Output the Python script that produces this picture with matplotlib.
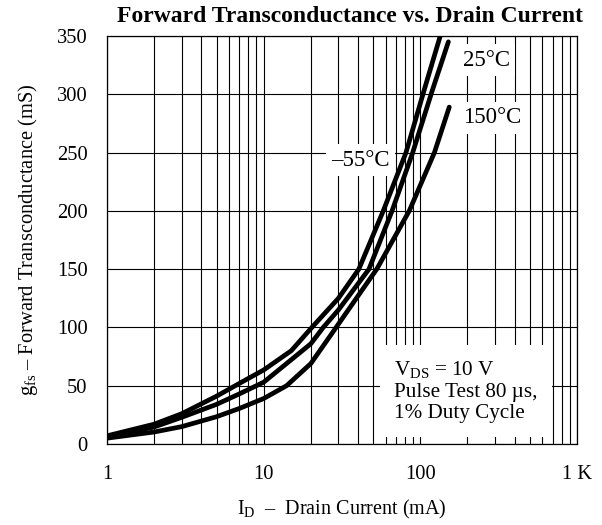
import numpy as np
import matplotlib
matplotlib.use("Agg")
import matplotlib.pyplot as plt
from matplotlib.ticker import FixedLocator, LogLocator, NullFormatter

plt.rcParams['font.family'] = ['Liberation Serif', 'DejaVu Serif']
plt.rcParams['mathtext.fontset'] = 'custom'
plt.rcParams['mathtext.rm'] = 'Liberation Serif'
plt.rcParams['mathtext.it'] = 'Liberation Serif:italic'

# curve data (I_D in mA, g_fs in mS)
id_m55 = [1, 2, 3, 5, 7, 10, 15, 20, 30, 40.5, 58, 81, 106, 134]
gfs_m55 = [7, 17, 26, 41, 52, 63.5, 80, 99, 125, 150, 200, 250, 304, 350]

id_25 = [1, 2, 3, 5, 7, 10, 20, 24, 30, 47, 66, 89.4, 119.7, 151]
gfs_25 = [6, 14.6, 22.9, 34, 43, 53, 86, 100, 115, 150, 200, 250, 304, 345]

id_150 = [1, 2, 3, 5, 7, 10, 14, 20, 29, 40, 52.7, 85, 123, 153]
gfs_150 = [5, 10.3, 14.9, 23.4, 30.5, 39, 50, 69, 100, 127, 150, 200, 250, 289]

xtick_vals = [1, 10, 100, 1000]
xtick_labels = ['1', '10', '100', '1 K']
ytick_vals = [0, 50, 100, 150, 200, 250, 300, 350]

fig = plt.figure(figsize=(6.02, 5.25), dpi=100)
ax = fig.add_axes([107/602, 1-444/525, (577-107)/602, (444-36)/525])

ax.set_xscale('log')
ax.set_xlim(1, 1000)
ax.set_ylim(0, 350)

ax.xaxis.set_major_locator(FixedLocator(xtick_vals))
ax.set_xticklabels(xtick_labels)
ax.xaxis.set_minor_locator(LogLocator(base=10, subs=np.arange(2, 10)))
ax.xaxis.set_minor_formatter(NullFormatter())
ax.set_yticks(ytick_vals)

ax.grid(True, which='both', axis='x', color='black', lw=0.8, zorder=0)
ax.grid(True, which='major', axis='y', color='black', lw=0.8, zorder=0)
ax.set_axisbelow(True)
ax.tick_params(which='both', length=0, labelsize=14.8)
ax.tick_params(axis='x', pad=15)
ax.tick_params(axis='y', pad=14)
for s in ax.spines.values():
    s.set_linewidth(0.9)

for xs, ys in [(id_m55, gfs_m55), (id_25, gfs_25), (id_150, gfs_150)]:
    ax.plot(xs, ys, color='black', lw=3.4, solid_capstyle='round',
            solid_joinstyle='round', zorder=5)

box = dict(facecolor='white', edgecolor='none', pad=4)
ax.text(10**((487-107)/157), 350*(444-60)/408, '25°C', fontsize=16.5,
        ha='center', va='center', bbox=box, zorder=3)
ax.text(10**((493-107)/157), 350*(444-118)/408, '150°C', fontsize=16.5,
        ha='center', va='center', bbox=box, zorder=3)
ax.text(10**((361-107)/157), 350*(444-160)/408, '–55°C', fontsize=16.5,
        ha='center', va='center', bbox=box, zorder=3)

ax.text(10**((395-107)/157), 350*(444-391)/408,
        'V$_{\\mathrm{DS}}$ = 10 V\nPulse Test 80 µs,\n1% Duty Cycle',
        fontsize=15.2, ha='left', va='center', linespacing=1.15,
        bbox=dict(facecolor='white', edgecolor='none', pad=10), zorder=3)

fig.text(350/602, 1-17/525, 'Forward Transconductance vs. Drain Current',
         fontsize=17, fontweight='bold', ha='center', va='center')
ax.set_xlabel('I$_{\\mathrm{D}}$  –  Drain Current (mA)', fontsize=14.5, labelpad=10)
ax.set_ylabel('g$_{\\mathrm{fs}}$ – Forward Transconductance (mS)', fontsize=14.8, labelpad=12)

fig.savefig('out.png', dpi=100)
